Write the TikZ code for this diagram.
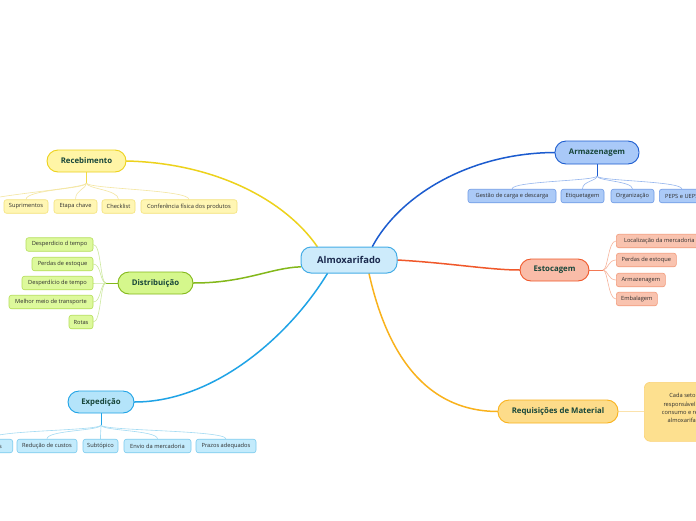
\documentclass[tikz,border=0pt]{standalone}
\usepackage{fontspec}
\setmainfont{Open Sans}
\usetikzlibrary{backgrounds,calc}
\definecolor{cFill}{HTML}{CDEBFB}
\definecolor{cBorder}{HTML}{45ADE6}
\definecolor{cText}{HTML}{1B2A4E}
\definecolor{tText}{HTML}{17463A}
\definecolor{sText}{HTML}{2E2E2E}
% yellow
\definecolor{yMain}{HTML}{EDD21C}
\definecolor{yFill}{HTML}{FFF5A6}
\definecolor{ySub}{HTML}{FFF6B4}
\definecolor{ySubB}{HTML}{F3E27A}
\definecolor{yLine}{HTML}{F4E6A0}
% green
\definecolor{gMain}{HTML}{83B81A}
\definecolor{gFill}{HTML}{D5F78C}
\definecolor{gSub}{HTML}{DDF99C}
\definecolor{gSubB}{HTML}{B4DE58}
\definecolor{gLine}{HTML}{CDE9A0}
% light blue
\definecolor{bMain}{HTML}{1FA3E6}
\definecolor{bFill}{HTML}{B4E4FA}
\definecolor{bSub}{HTML}{C3EBFC}
\definecolor{bSubB}{HTML}{7CCBEE}
\definecolor{bLine}{HTML}{A4DBF3}
% dark blue
\definecolor{dMain}{HTML}{1C5CCF}
\definecolor{dFill}{HTML}{A9C9F8}
\definecolor{dSub}{HTML}{ABCAF7}
\definecolor{dSubB}{HTML}{6F9BE6}
\definecolor{dLine}{HTML}{96B6EE}
% orange
\definecolor{oMain}{HTML}{F0582A}
\definecolor{oFill}{HTML}{F9BCA8}
\definecolor{oSub}{HTML}{F9C3AF}
\definecolor{oSubB}{HTML}{F29C7D}
\definecolor{oLine}{HTML}{F7B49C}
% amber
\definecolor{aMain}{HTML}{F9B21C}
\definecolor{aFill}{HTML}{FDDC8A}
\definecolor{aNote}{HTML}{FDE08F}
\definecolor{aNoteB}{HTML}{FBD275}
\definecolor{aLine}{HTML}{FBE2AC}
\tikzset{
  centerbox/.style={draw=cBorder, fill=cFill, line width=1pt, rounded corners=10pt,
    minimum height=26pt, inner sep=0pt, text=cText,
    font=\fontsize{9.4}{10}\selectfont\bfseries},
  topic/.style={rounded corners=11pt, minimum height=22pt, inner sep=0pt,
    line width=0.9pt, text=tText, font=\fontsize{7.8}{9}\selectfont\bfseries},
  sub/.style={rounded corners=2.5pt, minimum height=13.5pt, inner sep=0pt,
    line width=0.6pt, text=sText, font=\fontsize{5.7}{6.5}\selectfont},
  ysub/.style={sub, draw=ySubB, fill=ySub},
  gsub/.style={sub, draw=gSubB, fill=gSub},
  bsub/.style={sub, draw=bSubB, fill=bSub},
  dsub/.style={sub, draw=dSubB, fill=dSub},
  osub/.style={sub, draw=oSubB, fill=oSub},
  mainline/.style={line width=1.5pt, line cap=round},
  subline/.style={line width=0.6pt},
}
\begin{document}
\begin{tikzpicture}[x=1pt,y=-1pt]
\useasboundingbox (0,0) rectangle (696,520);

% central node
\node[centerbox, minimum width=96pt] (C) at (349,260) {Almoxarifado};

% main topics
\node[topic, draw=yMain, fill=yFill, minimum width=79pt] (rec) at (86.5,161) {Recebimento};
\node[topic, draw=gMain, fill=gFill, minimum width=75pt] (dis) at (155.5,283) {Distribuição};
\node[topic, draw=bMain, fill=bFill, minimum width=66pt] (exp) at (101,402) {Expedição};
\node[topic, draw=dMain, fill=dFill, minimum width=84pt, minimum height=23pt] (arm) at (597,152.5) {Armazenagem};
\node[topic, draw=oMain, fill=oFill, minimum width=69pt] (est) at (554.5,270) {Estocagem};
\node[topic, draw=aMain, fill=aFill, minimum width=120pt, minimum height=23pt] (req) at (558,411.5) {Requisições de Material};

% note of Requisições
\node[draw=aNoteB, fill=aNote, line width=0.6pt, rounded corners=6pt, anchor=north west,
  minimum width=86pt, minimum height=59pt, inner sep=0pt] (note) at (644,382) {};
\node[inner sep=0pt, align=center, text=sText, font=\fontsize{5.7}{8.3}\selectfont] (notetext) at (686,408)
  {Cada setor é\\responsável pelo\\consumo e realiza\\almoxarifado.};

% Recebimento children
\node[ysub, minimum width=44pt] (r1) at (26,206.5) {Suprimentos};
\node[ysub, minimum width=43pt] (r2) at (75.5,206.5) {Etapa chave};
\node[ysub, minimum width=33pt] (r3) at (118.5,206.5) {Checklist};
\node[ysub, minimum width=96pt] (r4) at (189,206.5) {Conferência física dos produtos};
\coordinate (r0) at (-30,206);
\coordinate (recJ) at (86.5,183);

% Distribuição children
\node[gsub, minimum width=67pt] (d1) at (59.5,244.5) {Desperdicio d tempo};
\node[gsub, minimum width=61pt] (d2) at (62.5,264) {Perdas de estoque};
\node[gsub, minimum width=71pt] (d3) at (57.5,283) {Desperdício de tempo};
\node[gsub, minimum width=84pt] (d4) at (51,302) {Melhor meio de transporte};
\node[gsub, minimum width=24pt] (d5) at (81,322) {Rotas};
\coordinate (disJ) at (106,283);

% Expedição children
\node[bsub, minimum width=46pt, anchor=east] (e0) at (13,446) {Produtos};
\node[bsub, minimum width=60pt] (e1) at (47,446) {Redução de custos};
\node[bsub, minimum width=35pt] (e2) at (100.5,446) {Subtópico};
\node[bsub, minimum width=67pt] (e3) at (157.5,446) {Envio da mercadoria};
\node[bsub, minimum width=60pt] (e4) at (226,446) {Prazos adequados};
\coordinate (expJ) at (101,425);

% Armazenagem children
\node[dsub, minimum width=88pt] (a1) at (512,196) {Gestão de carga e descarga};
\node[dsub, minimum width=43pt] (a2) at (582.5,196) {Etiquetagem};
\node[dsub, minimum width=43pt] (a3) at (632.5,196) {Organização};
\node[dsub, minimum width=45pt, anchor=west] (a4) at (659,196) {PEPS e UEPS};
\coordinate (armJ) at (597,176);

% Estocagem children
\node[osub, minimum width=86pt, anchor=west] (s1) at (616,241) {Localização da mercadoria};
\node[osub, minimum width=60pt, anchor=west] (s2) at (616,260) {Perdas de estoque};
\node[osub, minimum width=49pt, anchor=west] (s3) at (616,280) {Armazenagem};
\node[osub, minimum width=41pt, anchor=west] (s4) at (616,299) {Embalagem};
\coordinate (estJ) at (603,270);

\begin{pgfonlayer}{background}
\fill[white] (0,0) rectangle (696,520);
% main branches
\draw[mainline, yMain] (rec.east) .. controls (215,163) and (285,200) .. (C.157);
\draw[mainline, gMain] (dis.east) .. controls (245,283) and (270,268) .. (C.188);
\draw[mainline, bMain] (exp.east) .. controls (215,402) and (290,335) .. (C.212);
\draw[mainline, dMain] (arm.west) .. controls (470,153) and (400,195) .. (C.30);
\draw[mainline, oMain] (C.east) .. controls (450,263) and (490,270) .. (est.west);
\draw[mainline, aMain] (C.326) .. controls (385,345) and (420,411) .. (req.west);
\draw[line width=1.4pt, aLine] (req.east) -- (note.west |- req.east);

% Recebimento fan
\draw[line width=0.9pt, yMain!80] (rec.south) -- (recJ);
\foreach \n in {r0,r1,r2,r3,r4}
  \draw[subline, yLine] (recJ) .. controls ($(recJ)+(0,6)$) and ($(\n.north)+(0,-10)$) .. (\n.north);
% Distribuição fan
\draw[line width=0.9pt, gMain] (dis.west) -- (disJ);
\foreach \n in {d1,d2,d3,d4,d5}
  \draw[subline, gLine] (disJ) .. controls ($(disJ)+(-6,0)$) and ($(\n.east)+(8,0)$) .. (\n.east);
% Expedição fan
\draw[line width=0.9pt, bMain] (exp.south) -- (expJ);
\foreach \n in {e0,e1,e2,e3,e4}
  \draw[subline, bLine] (expJ) .. controls ($(expJ)+(0,6)$) and ($(\n.north)+(0,-9)$) .. (\n.north);
% Armazenagem fan
\draw[line width=0.9pt, dMain] (arm.south) -- (armJ);
\foreach \n in {a1,a2,a3,a4}
  \draw[subline, dLine] (armJ) .. controls ($(armJ)+(0,5)$) and ($(\n.north)+(0,-8)$) .. (\n.north);
% Estocagem fan
\draw[line width=0.9pt, oMain!80] (est.east) -- (estJ);
\foreach \n in {s1,s2,s3,s4}
  \draw[subline, oLine] (estJ) .. controls ($(estJ)+(5,0)$) and ($(\n.west)+(-8,0)$) .. (\n.west);
\end{pgfonlayer}
\end{tikzpicture}
\end{document}
